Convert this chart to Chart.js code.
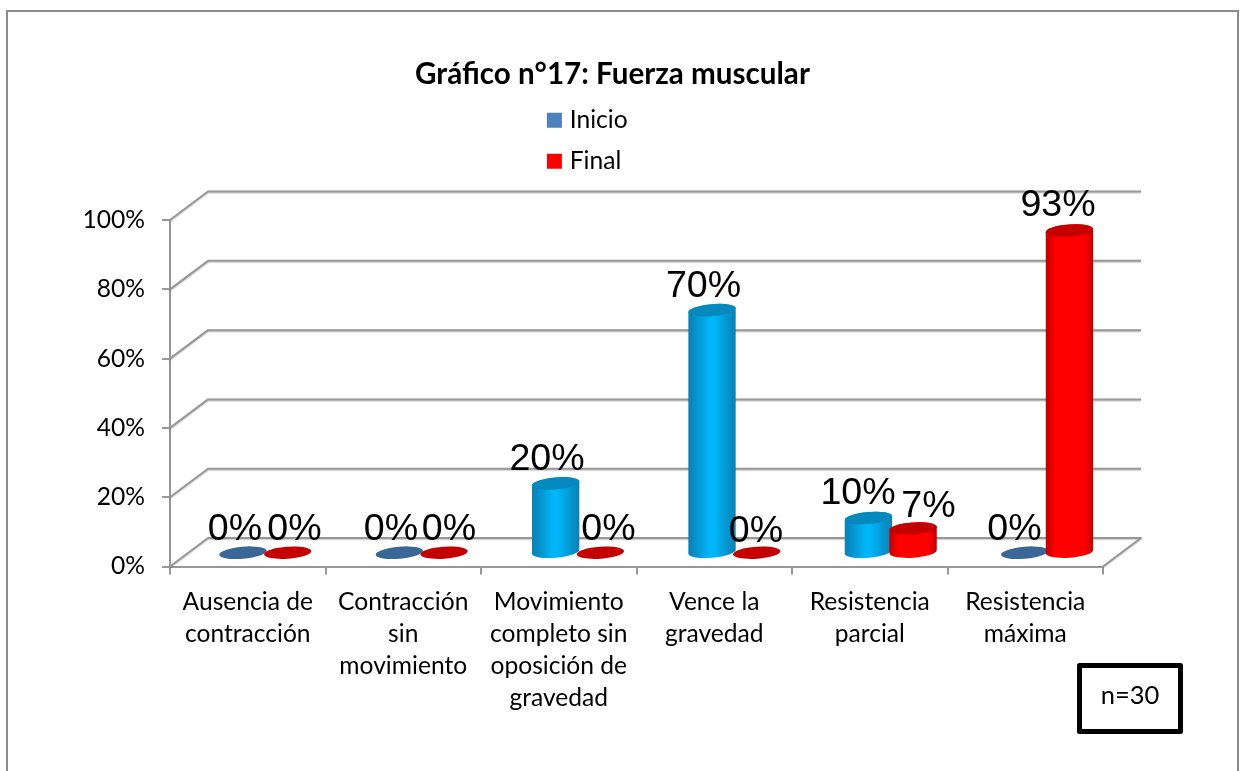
<!DOCTYPE html>
<html lang="es">
<head>
<meta charset="utf-8">
<title>Gráfico n°17: Fuerza muscular</title>
<script src="https://cdn.jsdelivr.net/npm/chart.js@4/dist/chart.umd.min.js"></script>
<style>
html,body{margin:0;padding:0;background:#fff;width:1240px;height:771px;overflow:hidden}
#frame{position:absolute;left:6px;top:10px;width:1229px;height:800px;border:2px solid #8c8c8c;box-sizing:content-box}
#c{position:absolute;left:0;top:0}
</style>
</head>
<body>
<div id="frame"></div>
<canvas id="c" width="1225" height="771"></canvas>
<script>
const titleText = 'Gráfico n°17: Fuerza muscular';
const categories = [
  ['Ausencia de','contracción'],
  ['Contracción','sin','movimiento'],
  ['Movimiento','completo sin','oposición de','gravedad'],
  ['Vence la','gravedad'],
  ['Resistencia','parcial'],
  ['Resistencia','máxima']
];
const inicioValues = [0, 0, 20, 70, 10, 0];
const finalValues  = [0, 0, 0, 0, 7, 93];
const yTicks = [0, 20, 40, 60, 80, 100];
const noteText = 'n=30';

const UI_FONT = 'Lato';
const DATA_FONT = '"Liberation Sans"';
const WALL = {dx: 38, dy: -28.5};
const BAR = {dx: 20, dy: -13.8, ry: 6, extra: 3, spread: 0.0055, anchor: 691};
const GRID = '#979797';
const looks = [
  {edge:'#0a7fb3', mid:'#00b6f8', top:'#0389bd', flat:'#3b6797', tilt:-5, a:.45, b:.55},
  {edge:'#c00000', mid:'#ff0000', top:'#c40000', flat:'#c40000', tilt:-4, a:.2, b:.82}
];
const labelShift = [
  [{x:-10.5,y:-27},{x:-10,y:-27},{x:-9.5,y:-27},{x:-8.5,y:-27},{x:-9.5,y:-28},{x:-8.5,y:-27}],
  [{x:4.5,y:-27},{x:3.5,y:-27},{x:7.5,y:-27},{x:-0.5,y:-25},{x:16.5,y:-25},{x:-9.5,y:-28}]
];

const cylinderPlugin = {
  id: 'cylinder3d',
  afterLayout(chart) {
    const lg = chart.legend, w = lg.width, h = lg.height;
    lg.left = 535; lg.right = 535 + w; lg.top = 91.5; lg.bottom = 91.5 + h;
    chart.titleBlock.left = 0; chart.titleBlock.right = 1225;
  },
  beforeDatasetsDraw(chart) {
    const {ctx, chartArea: a, scales: {y}} = chart;
    ctx.save();
    ctx.strokeStyle = GRID; ctx.lineWidth = 2; ctx.lineJoin = 'round';
    ctx.shadowColor = 'rgba(0,0,0,.22)'; ctx.shadowBlur = 1.5; ctx.shadowOffsetY = 1;
    yTicks.forEach(t => {
      const py = y.getPixelForValue(t);
      ctx.beginPath();
      ctx.moveTo(a.left, py);
      ctx.lineTo(a.left + WALL.dx, py + WALL.dy);
      ctx.lineTo(a.right + WALL.dx, py + WALL.dy);
      if (t === 0) ctx.lineTo(a.right, py);
      ctx.stroke();
    });
    ctx.restore();
  },
  beforeDatasetDraw() { return false; },
  afterDatasetsDraw(chart) {
    const {ctx} = chart;
    ctx.save();
    chart.data.datasets.forEach((ds, di) => {
      const lk = looks[di], rot = lk.tilt * Math.PI / 180;
      chart.getDatasetMeta(di).data.forEach(el => {
        const cx = el.x + BAR.dx + (el.x - BAR.anchor) * BAR.spread, rx = el.width / 2 + BAR.extra / 2;
        const ty = el.y + BAR.dy, by = el.base + BAR.dy;
        if (by - ty < 1) {
          ctx.fillStyle = lk.flat;
          ctx.beginPath(); ctx.ellipse(cx, by, rx, BAR.ry, rot, 0, Math.PI * 2); ctx.fill();
          return;
        }
        const g = ctx.createLinearGradient(cx - rx, 0, cx + rx, 0);
        g.addColorStop(0, lk.edge); g.addColorStop(lk.a, lk.mid); g.addColorStop(lk.b, lk.mid); g.addColorStop(1, lk.edge);
        ctx.fillStyle = g;
        ctx.beginPath();
        ctx.ellipse(cx, by, rx, BAR.ry, rot, Math.PI, 0, true);
        ctx.ellipse(cx, ty, rx, BAR.ry, rot, 0, Math.PI, true);
        ctx.closePath(); ctx.fill();
        ctx.fillStyle = lk.top;
        ctx.beginPath(); ctx.ellipse(cx, ty, rx, BAR.ry, rot, 0, Math.PI * 2); ctx.fill();
      });
    });
    ctx.fillStyle = '#000'; ctx.font = '37.6px ' + DATA_FONT;
    ctx.textAlign = 'center'; ctx.textBaseline = 'alphabetic';
    chart.data.datasets.forEach((ds, di) => {
      chart.getDatasetMeta(di).data.forEach((el, i) => {
        const s = labelShift[di][i];
        ctx.fillText(ds.data[i] + '%', el.x + BAR.dx + s.x, el.y + s.y);
      });
    });
    ctx.strokeStyle = '#000'; ctx.lineWidth = 5; ctx.lineJoin = 'round';
    ctx.strokeRect(1079.5, 665.5, 101, 66);
    ctx.font = '25.5px ' + UI_FONT; ctx.textBaseline = 'middle';
    ctx.fillText(noteText, 1130, 696);
    ctx.restore();
  }
};

new Chart(document.getElementById('c'), {
  type: 'bar',
  plugins: [cylinderPlugin],
  data: {
    labels: categories,
    datasets: [
      {label:'Inicio', data: inicioValues, backgroundColor:'#4f81bd', borderColor:'#4f81bd', borderWidth:9},
      {label:'Final', data: finalValues, backgroundColor:'#ff0000', borderColor:'#ff0000', borderWidth:9}
    ]
  },
  options: {
    responsive: false,
    animation: false,
    layout: {padding: {left:0, right:122, top:0, bottom:0}},
    datasets: {bar: {categoryPercentage: 0.572, barPercentage: 1}},
    scales: {
      x: {
        afterFit(s) { s.height = 204.5; },
        border: {color: GRID, width: 2},
        grid: {drawOnChartArea:false, drawTicks:true, tickLength:8, color:GRID, lineWidth:2},
        ticks: {color:'#000', maxRotation:0, minRotation:0, autoSkip:false, padding:12,
          font:{family:UI_FONT, size:24.6, lineHeight:32/24.6}}
      },
      y: {
        min: 0, max: 100,
        afterFit(s) { s.width = 170; },
        afterBuildTicks(s) { s.ticks = yTicks.map(v => ({value:v})); },
        border: {color: GRID, width: 2},
        grid: {drawOnChartArea:false, drawTicks:true, tickLength:8, color:GRID, lineWidth:2},
        ticks: {color:'#000', padding:17, callback:v => v + '%', font:{family:UI_FONT, size:24.6}}
      }
    },
    plugins: {
      tooltip: {enabled:false},
      title: {display:true, text:titleText, color:'#000', padding:{top:58, bottom:128.6},
        font:{family:UI_FONT, size:29.6, weight:'bold', lineHeight:1.13}},
      legend: {display:true, position:'chartArea', align:'start',
        labels:{boxWidth:6, boxHeight:6, padding:16.4, color:'#000', font:{family:UI_FONT, size:24.6}}}
    }
  }
});
</script>
</body>
</html>
